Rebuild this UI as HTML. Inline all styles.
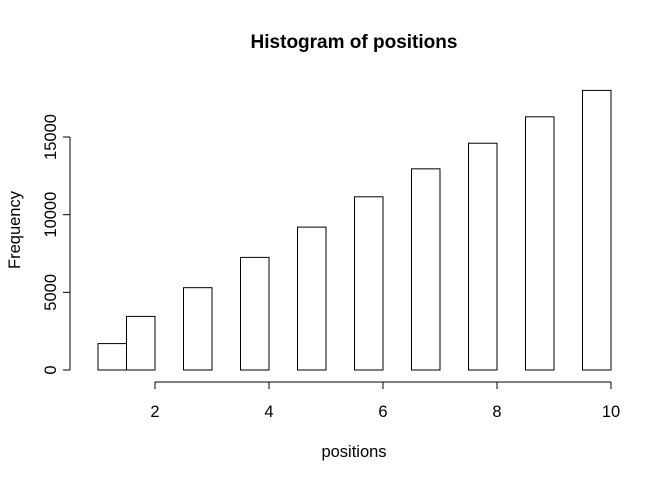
<!DOCTYPE html>
<html><head><meta charset="utf-8">
<style>
html,body{margin:0;padding:0;background:#fff;}
svg{display:block;font-family:"Liberation Sans",Arial,sans-serif;}
</style></head>
<body>
<svg id="chart" width="672" height="480" viewBox="0 0 672 480">
<text x="354" y="48" text-anchor="middle" font-size="19" font-weight="bold">Histogram of positions</text>
<text x="354" y="457" text-anchor="middle" font-size="16.5">positions</text>
<text transform="translate(20,230) rotate(-90)" text-anchor="middle" font-size="16.5">Frequency</text>
<g id="bars"></g>
<g id="xaxis"></g>
<g id="yaxis"></g>
</svg>
<script>
const binStarts = [1, 1.5, 2.5, 3.5, 4.5, 5.5, 6.5, 7.5, 8.5, 9.5];
const counts = [1700, 3450, 5300, 7250, 9200, 11150, 12950, 14600, 16300, 18000];
const binWidth = 0.5;
const xTicks = [2, 4, 6, 8, 10];
const yTicks = [0, 5000, 10000, 15000];

const NS = "http://www.w3.org/2000/svg";
function xs(v){ return 155 + (v - 2) * (611 - 155) / 8; }
function ys(v){ return 370 - v * (370 - 137) / 15000; }
function mk(tag, attrs, parent){
  const e = document.createElementNS(NS, tag);
  for (const k in attrs) e.setAttribute(k, attrs[k]);
  parent.appendChild(e);
  return e;
}
const bars = document.getElementById('bars');
binStarts.forEach((b, i) => {
  const x0 = xs(b), x1 = xs(b + binWidth), y = ys(counts[i]);
  const r = mk('rect', {x: x0, y: y, width: x1 - x0, height: ys(0) - y, fill: '#fff', stroke: '#000', 'stroke-width': 1}, bars);
  
  
});
const xa = document.getElementById('xaxis');
const xl = mk('line', {x1: xs(xTicks[0]), x2: xs(xTicks[xTicks.length-1]), y1: 382, y2: 382, stroke: '#000'}, xa);


xTicks.forEach(t => {
  mk('line', {x1: xs(t), x2: xs(t), y1: 382, y2: 389, stroke: '#000'}, xa);
  const tx = mk('text', {x: xs(t), y: 417, 'text-anchor': 'middle', 'font-size': 16.5}, xa);
  tx.textContent = t;
  
  
});
const ya = document.getElementById('yaxis');
const yl = mk('line', {x1: 70, x2: 70, y1: ys(yTicks[0]), y2: ys(yTicks[yTicks.length-1]), stroke: '#000'}, ya);


yTicks.forEach(t => {
  mk('line', {x1: 63, x2: 70, y1: ys(t), y2: ys(t), stroke: '#000'}, ya);
  const tx = mk('text', {transform: 'translate(56,' + ys(t) + ') rotate(-90)', 'text-anchor': 'middle', 'font-size': 16.5}, ya);
  tx.textContent = t;
  
  
});
</script>
</body></html>
